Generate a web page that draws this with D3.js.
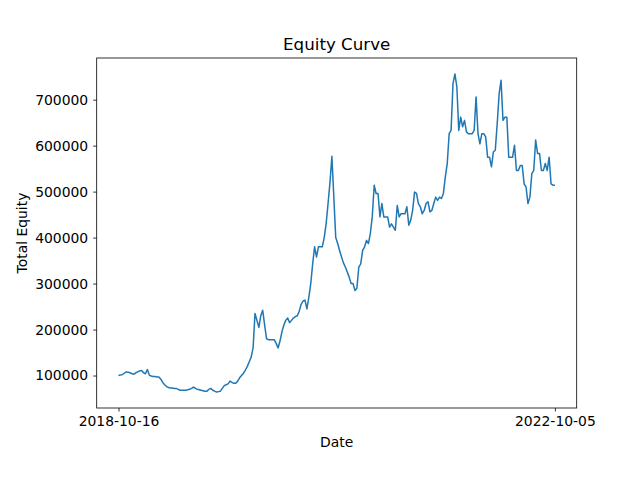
<!DOCTYPE html>
<html>
<head>
<meta charset="utf-8">
<script src="https://cdn.jsdelivr.net/npm/d3@7"></script>
<style>
  body { margin: 0; background: #fff; }
  text { font-family: "DejaVu Sans", sans-serif; }
</style>
</head>
<body>
<script>
// equity values in thousands
const equityK = [
  100,101,102,105,108,107,106,104,103,106,108,110,111,106,104,113,101,99,98,98,97,97,92,85,80,76,74,73,73,72,
  72,70,68,68,68,68,69,70,72,75,72,70,69,68,67,66,66,70,72,68,66,64,65,66,72,78,80,82,88,85,
  83,83,88,95,100,105,112,120,130,140,160,235,220,205,230,242,210,180,178,178,178,178,170,160,175,195,210,220,225,215,
  220,225,228,230,240,255,262,264,245,270,300,343,380,358,380,380,380,400,430,474,520,577,488,400,387,372,358,345,336,325,
  314,300,300,285,290,336,343,372,380,394,387,409,445,514,496,496,445,474,445,445,445,423,430,423,416,470,445,452,452,452,
  467,427,438,459,499,496,474,467,452,459,474,478,456,459,474,488,481,488,485,496,532,561,626,633,735,756,728,633,662,641,
  655,630,626,626,626,633,706,626,604,626,626,619,575,575,554,586,590,648,713,742,655,662,662,575,575,575,601,546,546,557,
  557,517,510,474,488,539,546,612,583,583,546,546,561,546,575,517,514,514
]
const startDate = "2018-10-16"
const endDate = "2022-10-05"
const yTicks = [100000, 200000, 300000, 400000, 500000, 600000, 700000]

const equity = equityK.map(d => d * 1000)
const n = equity.length

const width = 640, height = 480
const margin = {left: 96.7, right: 63.3, top: 58, bottom: 72}

const svg = d3.select("body").append("svg")
  .attr("width", width)
  .attr("height", height)

const x = d3.scaleLinear()
  .domain([-0.05 * (n - 1), 1.05 * (n - 1)])
  .range([margin.left, width - margin.right])

const yMin = d3.min(equity), yMax = d3.max(equity)
const pad = (yMax - yMin) * 0.05
const y = d3.scaleLinear()
  .domain([yMin - pad, yMax + pad])
  .range([height - margin.bottom, margin.top])

// axes
const xAxis = svg.append("g")
  .attr("transform", `translate(0,${height - margin.bottom})`)
  .call(d3.axisBottom(x).tickValues([0, n - 1]).tickFormat(i => i === 0 ? startDate : endDate)
    .tickSizeOuter(0).tickSize(3.5).tickPadding(5))

const yAxis = svg.append("g")
  .attr("transform", `translate(${margin.left},0)`)
  .call(d3.axisLeft(y).tickValues(yTicks).tickFormat(d3.format("d"))
    .tickSizeOuter(0).tickSize(3.5).tickPadding(5))

svg.selectAll(".tick text").attr("font-size", 13.9).attr("fill", "#000")
  .style("font-family", "DejaVu Sans")
svg.selectAll(".tick line").attr("stroke", "#000").attr("stroke-width", 0.8)
svg.selectAll(".domain").remove()

// line
svg.append("path")
  .datum(equity)
  .attr("fill", "none")
  .attr("stroke", "#1f77b4")
  .attr("stroke-width", 1.5)
  .attr("stroke-linejoin", "round")
  .attr("d", d3.line().x((d, i) => x(i)).y(d => y(d)))

// frame
svg.append("rect")
  .attr("x", margin.left).attr("y", margin.top)
  .attr("width", width - margin.left - margin.right)
  .attr("height", height - margin.top - margin.bottom)
  .attr("fill", "none").attr("stroke", "#000").attr("stroke-width", 0.8)

// labels
svg.append("text").attr("x", (margin.left + width - margin.right) / 2).attr("y", 50)
  .attr("text-anchor", "middle").attr("font-size", 16.7).text("Equity Curve")
svg.append("text").attr("x", (margin.left + width - margin.right) / 2).attr("y", 447)
  .attr("text-anchor", "middle").attr("font-size", 13.9).text("Date")
svg.append("text").attr("transform", `translate(27,${(margin.top + height - margin.bottom) / 2}) rotate(-90)`)
  .attr("text-anchor", "middle").attr("font-size", 13.9).text("Total Equity")
</script>
</body>
</html>
